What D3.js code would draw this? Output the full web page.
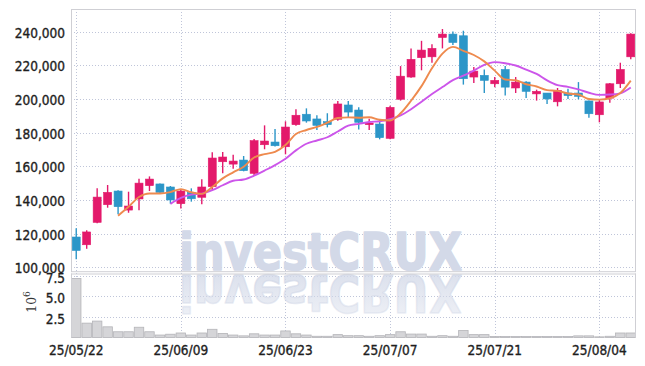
<!DOCTYPE html>
<html>
<head>
<meta charset="utf-8">
<script src="https://cdn.jsdelivr.net/npm/d3@7"></script>
<style>
body { margin: 0; background: #fff; }
</style>
</head>
<body>
<script>
var dates = [
  "25/05/22", "25/05/23", "25/05/26", "25/05/27", "25/05/28", "25/05/29", "25/05/30",
  "25/06/02", "25/06/04", "25/06/05", "25/06/09", "25/06/10", "25/06/11", "25/06/12",
  "25/06/13", "25/06/16", "25/06/17", "25/06/18", "25/06/19", "25/06/20", "25/06/23",
  "25/06/24", "25/06/25", "25/06/26", "25/06/27", "25/06/30", "25/07/01", "25/07/02",
  "25/07/03", "25/07/04", "25/07/07", "25/07/08", "25/07/09", "25/07/10", "25/07/11",
  "25/07/14", "25/07/15", "25/07/16", "25/07/17", "25/07/18", "25/07/21", "25/07/22",
  "25/07/23", "25/07/24", "25/07/25", "25/07/28", "25/07/29", "25/07/30", "25/07/31",
  "25/08/01", "25/08/04", "25/08/05", "25/08/06", "25/08/07"
];
var open = [
  118000, 113400, 126700, 137200, 145300, 134000, 140600, 148500, 149500, 147700,
  137800, 144500, 141600, 147900, 162700, 161300, 163700, 155800, 172800, 174400,
  171600, 184700, 190900, 188100, 186500, 187900, 196400, 193400, 184700, 185100,
  176600, 199800, 213000, 224500, 225000, 236500, 238500, 237500, 213000, 214000,
  209000, 217500, 206500, 210000, 203000, 203500, 198300, 203500, 203500, 198800,
  190600, 200500, 209000, 225000
];
var high = [
  123200, 122000, 146900, 148900, 145700, 144900, 152600, 154000, 149800, 148300,
  146000, 146900, 152300, 168300, 168500, 166900, 166100, 176200, 184300, 182100,
  186700, 193800, 194400, 190300, 191500, 198800, 198800, 195000, 188200, 187500,
  196000, 219500, 230000, 234500, 232500, 241500, 240000, 240500, 219000, 217500,
  213000, 219500, 213000, 210500, 205500, 203500, 206500, 206000, 210000, 199000,
  199300, 209500, 221500, 239000
];
var low = [
  104800, 111000, 126100, 135400, 131500, 132400, 133900, 145300, 144000, 137800,
  135000, 139000, 137400, 145300, 155800, 158600, 157000, 154400, 170100, 171800,
  167100, 184000, 185900, 181500, 183100, 187100, 189100, 181900, 181500, 176000,
  176000, 199000, 212500, 217000, 221500, 230000, 232000, 208500, 209500, 203500,
  207000, 202000, 203500, 200500, 199000, 197000, 195600, 200000, 199800, 188800,
  186100, 197700, 206500, 223500
];
var close = [
  110000, 121000, 141700, 144500, 136000, 136400, 150000, 152400, 144500, 140000,
  145300, 140700, 147700, 164900, 165500, 163100, 157400, 175200, 175000, 172200,
  183300, 190300, 186900, 184300, 184700, 197000, 192200, 186100, 185700, 177000,
  195000, 213500, 223500, 229000, 230000, 238500, 233500, 212000, 216500, 211000,
  211000, 207000, 210000, 204500, 204500, 200000, 205000, 202000, 201500, 191200,
  198200, 209000, 217500, 238500
];
// volume in millions of shares
var volume = [
  7.2, 1.75, 2.0, 1.3, 0.7, 0.7, 1.25, 0.7, 0.3, 0.4,
  0.55, 0.3, 0.55, 1.0, 0.5, 0.3, 0.2, 0.45, 0.3, 0.3,
  0.8, 0.45, 0.3, 0.15, 0.15, 0.35, 0.22, 0.22, 0.15, 0.22,
  0.35, 0.7, 0.42, 0.42, 0.15, 0.22, 0.15, 0.85, 0.35, 0.35,
  0.12, 0.12, 0.12, 0.12, 0.12, 0.12, 0.12, 0.12, 0.2, 0.2,
  0.08, 0.15, 0.55, 0.55
];
var ma5 = [
  null, null, null, null, 130640, 135920, 141720, 143860, 143860, 144660,
  146440, 144580, 143640, 147720, 152820, 156380, 159720, 165220, 167240, 168580,
  172620, 179200, 181540, 183400, 185900, 188640, 189020, 188860, 189140, 187600,
  187200, 191460, 198940, 207600, 218200, 226900, 230900, 228600, 226100, 222300,
  216800, 211500, 211100, 208700, 207400, 205200, 204800, 203200, 202600, 199940,
  199580, 200380, 203480, 210880
];
var ma10 = [
  null, null, null, null, null, null, null, null, null, 137650,
  141180, 143150, 143750, 145790, 148740, 151410, 152150, 154430, 157480, 160700,
  164500, 169460, 173380, 175320, 177240, 180630, 184110, 185200, 186270, 186750,
  187920, 190240, 193900, 198370, 202900, 207050, 211180, 213770, 216850, 220250,
  221850, 221200, 219850, 217400, 214850, 211000, 208150, 207150, 205650, 203670,
  202390, 202590, 203340, 206740
];
var dateTicks = ["25/05/22", "25/06/09", "25/06/23", "25/07/07", "25/07/21", "25/08/04"];
var priceTicks = [100000, 120000, 140000, 160000, 180000, 200000, 220000, 240000];
var volumeTicks = [2.5, 5, 7.5];

var W = 645, H = 366,
    left = 71, right = 636,
    pTop = 9, pBottom = 271.7,
    vTop = 273.5, vBottom = 337.5;

var upColor = "#e3196b", downColor = "#2c96c8",
    gridColor = "#bfc5d9", labelFont = "'DejaVu Sans Condensed', 'DejaVu Sans', sans-serif";

var svg = d3.select("body").append("svg")
    .attr("width", W)
    .attr("height", H)
    .style("display", "block");

var x = d3.scaleBand().domain(dates).range([left, right]);
var xc = function(d) { return x(d) + x.bandwidth() / 2; };
var y = d3.scaleLinear().domain([97400, 253400]).range([pBottom, pTop]);
var yv = d3.scaleLinear().domain([0, 7.8]).range([vBottom, vTop]);

var rows = dates.map(function(d, i) {
  return { date: d, o: open[i], h: high[i], l: low[i], c: close[i], v: volume[i], m5: ma5[i], m10: ma10[i] };
});

var defs = svg.append("defs");
defs.append("clipPath").attr("id", "clipP")
  .append("rect").attr("x", left).attr("y", pTop).attr("width", right - left).attr("height", pBottom - pTop);
defs.append("clipPath").attr("id", "clipV")
  .append("rect").attr("x", left).attr("y", vTop).attr("width", right - left).attr("height", vBottom - vTop + 1);
var grad = defs.append("linearGradient").attr("id", "fade")
    .attr("x1", 0).attr("y1", 0).attr("x2", 0).attr("y2", 1);
grad.append("stop").attr("offset", "0%").attr("stop-color", "#d3d9e8").attr("stop-opacity", 0.35);
grad.append("stop").attr("offset", "100%").attr("stop-color", "#d3d9e8").attr("stop-opacity", 0.9);

// gridlines
var grid = svg.append("g")
    .attr("stroke", gridColor)
    .attr("stroke-width", 1)
    .attr("stroke-dasharray", "1,2");
grid.selectAll(".hp").data(priceTicks).enter().append("line")
    .attr("x1", left).attr("x2", right)
    .attr("y1", function(d) { return Math.round(y(d)) + 0.5; })
    .attr("y2", function(d) { return Math.round(y(d)) + 0.5; });
grid.selectAll(".hv").data(volumeTicks).enter().append("line")
    .attr("x1", left).attr("x2", right)
    .attr("y1", function(d) { return Math.round(yv(d)) + 0.5; })
    .attr("y2", function(d) { return Math.round(yv(d)) + 0.5; });
grid.selectAll(".vx").data(dateTicks).enter().append("line")
    .attr("x1", function(d) { return Math.round(xc(d)) + 0.5; })
    .attr("x2", function(d) { return Math.round(xc(d)) + 0.5; })
    .attr("y1", pTop).attr("y2", vBottom);

// watermark and its reflection
function watermark(g, fill, transform) {
  g.append("text")
      .attr("transform", transform)
      .attr("x", 179).attr("y", 270)
      .attr("textLength", 283).attr("lengthAdjust", "spacingAndGlyphs")
      .style("font-family", "'DejaVu Sans', sans-serif")
      .style("font-weight", "bold")
      .style("font-size", "51px")
      .attr("fill", fill)
      .attr("stroke", fill)
      .attr("stroke-width", 1.6)
      .attr("stroke-linejoin", "round")
      .text("investCRUX");
}
watermark(svg.append("g").attr("clip-path", "url(#clipP)"), "#d3d9e8", null);
watermark(svg.append("g").attr("clip-path", "url(#clipV)"), "url(#fade)",
    "translate(0," + (2 * 272.5) + ")scale(1,-1)");

// volume bars
svg.append("g").selectAll("rect")
    .data(rows)
  .enter().append("rect")
    .attr("x", function(d) { return x(d.date) + 0.5; })
    .attr("y", function(d) { return yv(d.v); })
    .attr("width", x.bandwidth() - 1)
    .attr("height", function(d) { return vBottom - yv(d.v); })
    .attr("fill", "#d5d5d8")
    .attr("stroke", "#b4b4b8")
    .attr("stroke-width", 0.8);

// candles
var candle = svg.append("g").selectAll("g")
    .data(rows)
  .enter().append("g")
    .attr("fill", function(d) { return d.c >= d.o ? upColor : downColor; })
    .attr("stroke", function(d) { return d.c >= d.o ? upColor : downColor; });
candle.append("line")
    .attr("x1", function(d) { return xc(d.date); })
    .attr("x2", function(d) { return xc(d.date); })
    .attr("y1", function(d) { return y(d.h); })
    .attr("y2", function(d) { return y(d.l); })
    .attr("stroke-width", 1.4);
candle.append("rect")
    .attr("x", function(d) { return xc(d.date) - 4; })
    .attr("width", 8)
    .attr("y", function(d) { return y(Math.max(d.o, d.c)); })
    .attr("height", function(d) { return Math.max(1, Math.abs(y(d.o) - y(d.c))); })
    .attr("stroke-width", 0.6);

// moving averages
function maLine(key, color) {
  svg.append("path")
      .datum(rows.filter(function(d) { return d[key] != null; }))
      .attr("fill", "none")
      .attr("stroke", color)
      .attr("stroke-width", 1.9)
      .attr("d", d3.line()
        .curve(d3.curveMonotoneX)
        .x(function(d) { return xc(d.date); })
        .y(function(d) { return y(d[key]); }));
}
maLine("m10", "#cc55ea");
maLine("m5", "#ee8a4e");

// panel frames
svg.append("rect")
    .attr("x", left + 0.5).attr("y", pTop + 0.5)
    .attr("width", right - left - 1).attr("height", pBottom - pTop - 0.5)
    .attr("fill", "none").attr("stroke", "#cfcfd4");
svg.append("line")
    .attr("x1", left).attr("x2", right)
    .attr("y1", vTop + 0.5).attr("y2", vTop + 0.5)
    .attr("stroke", "#cfcfd4");
svg.append("line")
    .attr("x1", left + 0.5).attr("x2", left + 0.5)
    .attr("y1", vTop).attr("y2", vBottom)
    .attr("stroke", "#cfcfd4");
svg.append("line")
    .attr("x1", right - 0.5).attr("x2", right - 0.5)
    .attr("y1", vTop).attr("y2", vBottom)
    .attr("stroke", "#cfcfd4");

// axes
function styleAxis(g) {
  g.select(".domain").remove();
  g.selectAll("line").remove();
  g.selectAll("text")
      .style("font-family", labelFont)
      .style("font-size", "13.5px")
      .attr("fill", "#1e1e1e")
      .attr("stroke", "#1e1e1e")
      .attr("stroke-width", 0.35);
}
svg.append("g")
    .attr("transform", "translate(" + left + ",0)")
    .call(d3.axisLeft(y).tickValues(priceTicks).tickFormat(d3.format(",")).tickSize(0).tickPadding(6))
    .call(styleAxis)
    .selectAll("text").attr("dy", "0.42em");
svg.append("g")
    .attr("transform", "translate(" + left + ",0)")
    .call(d3.axisLeft(yv).tickValues(volumeTicks).tickFormat(d3.format(".1f")).tickSize(0).tickPadding(6))
    .call(styleAxis)
    .selectAll("text").attr("dy", "0.45em");
svg.append("g")
    .attr("transform", "translate(0," + vBottom + ")")
    .call(d3.axisBottom(x).tickValues(dateTicks).tickSize(0).tickPadding(8))
    .call(styleAxis);

var unit = svg.append("text")
    .attr("transform", "translate(36,302)rotate(-90)")
    .attr("text-anchor", "middle")
    .style("font-family", "'DejaVu Serif', serif")
    .style("font-size", "12.5px")
    .attr("fill", "#333");
unit.append("tspan").text("10");
unit.append("tspan").attr("dy", "-6").style("font-size", "9px").text("6");
</script>
</body>
</html>
